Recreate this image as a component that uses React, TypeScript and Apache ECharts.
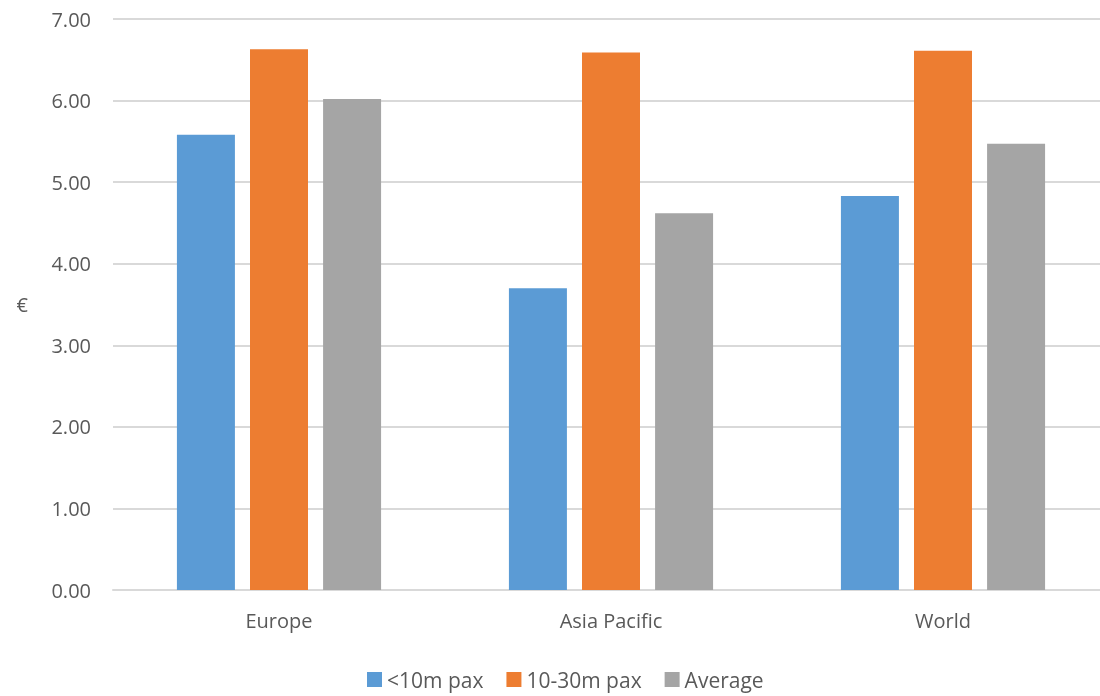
import React, { useEffect, useRef } from "react";
import * as echarts from "echarts";

const categories = ["Europe", "Asia Pacific", "World"];
const seriesNames = ["<10m pax", "10-30m pax", "Average"];
const under10 = [5.58, 3.7, 4.83];
const from10to30 = [6.63, 6.59, 6.61];
const average = [6.02, 4.62, 5.47];
const colors = ["#5B9BD5", "#ED7D31", "#A5A5A5"];

export default function App() {
  const ref = useRef<HTMLDivElement>(null);
  useEffect(() => {
    if (!ref.current) return;
    const chart = echarts.init(ref.current, null, { renderer: "svg" });
    const font = "'Open Sans', 'Noto Sans', sans-serif";
    const data = [under10, from10to30, average];
    chart.setOption({
      animation: false,
      textStyle: { fontFamily: font },
      grid: {
        left: 113,
        top: 19,
        width: 996,
        bottom: 106,
        containLabel: false,
        outerBoundsMode: "none",
      },
      legend: {
        bottom: 1,
        left: 362,
        itemWidth: 15,
        itemHeight: 15,
        itemGap: 23,
        icon: "rect",
        textStyle: { color: "#595959", fontSize: 21, fontFamily: font },
        data: seriesNames,
      },
      xAxis: {
        type: "category",
        data: categories,
        axisTick: { show: false },
        axisLine: { lineStyle: { color: "#D9D9D9", width: 2 } },
        axisLabel: { color: "#595959", fontSize: 20, margin: 20, fontFamily: font },
      },
      yAxis: {
        type: "value",
        min: 0,
        max: 7,
        interval: 1,
        name: "€",
        nameLocation: "middle",
        nameRotate: 0,
        nameGap: 85,
        nameTextStyle: { color: "#595959", fontSize: 20, fontFamily: font },
        axisLine: { show: false },
        axisTick: { show: false },
        splitLine: { lineStyle: { color: "#D9D9D9", width: 2 } },
        axisLabel: {
          color: "#595959",
          fontSize: 20,
          margin: 22,
          fontFamily: font,
          formatter: (v: number) => v.toFixed(2),
        },
      },
      series: seriesNames.map((name, i) => ({
        name,
        type: "bar",
        data: data[i],
        barWidth: 58,
        barGap: "26%",
        itemStyle: { color: colors[i] },
      })),
    });
    return () => chart.dispose();
  }, []);
  return (
    <div
      ref={ref}
      style={{ position: "fixed", left: 0, top: 0, width: 1100, height: 696 }}
    />
  );
}
